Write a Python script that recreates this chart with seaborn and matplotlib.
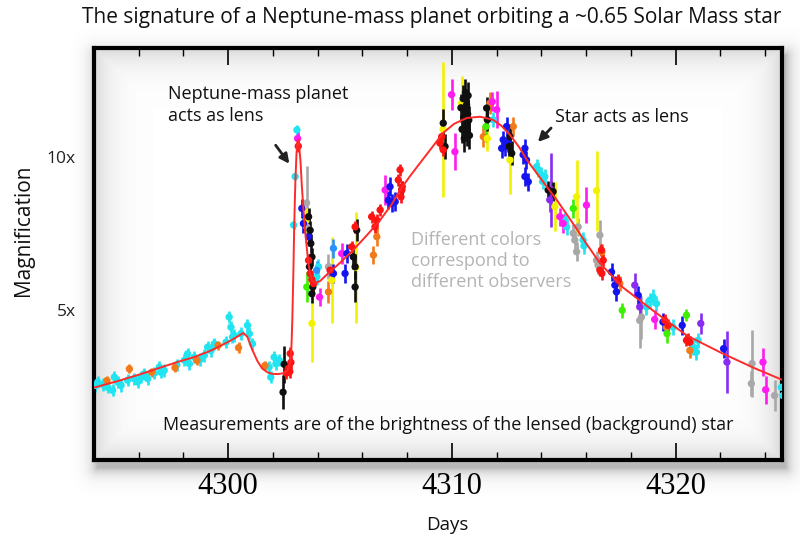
import numpy as np
import pandas as pd
import matplotlib
matplotlib.use("Agg")
import matplotlib.pyplot as plt
from matplotlib.ticker import MultipleLocator
import seaborn as sns

# ---------------- model light curve (days, magnification) ----------------
model_day = [4294.0, 4295.0, 4296.0, 4297.0, 4297.8, 4298.5, 4299.2, 4299.7, 4300.2,
             4300.67, 4300.85, 4301.07, 4301.3, 4301.52, 4301.75, 4301.95, 4302.2,
             4302.5, 4302.65, 4302.77, 4302.82, 4302.86, 4302.91, 4302.95, 4303.0,
             4303.05, 4303.09, 4303.13, 4303.17, 4303.23, 4303.29, 4303.37, 4303.44,
             4303.57, 4303.66, 4303.74, 4303.88, 4304.1, 4304.46, 4305.0, 4305.58,
             4306.2, 4306.79, 4307.3, 4307.68, 4308.1, 4308.57, 4309.1, 4309.6,
             4310.1, 4310.67, 4311.25, 4311.83, 4312.2, 4312.59, 4313.0, 4313.35,
             4314.06, 4314.69, 4315.4, 4316.0, 4316.61, 4317.63, 4318.97, 4320.49,
             4322.1, 4323.5, 4324.8]
model_mag = [2.48, 2.68, 2.90, 3.14, 3.33, 3.48, 3.68, 3.86, 4.05,
             4.26, 4.14, 3.72, 3.35, 3.10, 2.98, 2.93, 2.92,
             2.95, 3.05, 3.30, 3.70, 4.60, 6.20, 7.80, 9.20,
             10.10, 10.50, 10.55, 10.35, 9.85, 9.05, 8.20, 7.55,
             6.60, 6.20, 5.98, 5.88, 5.95, 6.20, 6.55, 6.96,
             7.45, 7.94, 8.45, 8.92, 9.35, 9.80, 10.30, 10.78,
             11.08, 11.27, 11.31, 11.21, 11.02, 10.72, 10.32, 9.90,
             9.20, 8.59, 7.84, 7.18, 6.54, 5.75, 5.00, 4.18,
             3.59, 3.12, 2.72]

# ---------------- measurements, one set per observer ----------------
cyan_day = [4294.05, 4294.17, 4294.4, 4294.61, 4294.83, 4294.91, 4295.06, 4295.21,
            4295.5, 4295.8, 4295.95, 4296.1, 4296.25, 4296.4, 4296.7, 4296.92,
            4296.99, 4297.14, 4297.7, 4298.04, 4298.18, 4298.26, 4298.48, 4298.75,
            4298.93, 4299.08, 4299.23, 4299.38, 4299.9, 4300.04, 4300.12, 4300.19,
            4300.27, 4300.57, 4300.86, 4300.94, 4301.08, 4301.83, 4301.9, 4302.05,
            4302.13, 4302.28, 4302.92, 4302.99, 4303.07, 4303.96, 4304.03, 4311.84,
            4313.78, 4313.86, 4314.0, 4314.05, 4314.15, 4315.04, 4315.12, 4315.86,
            4315.9, 4318.69, 4318.84, 4318.99, 4319.14, 4319.88, 4320.77, 4320.92,
            4321.0, 4324.72, 4324.79]
cyan_mag = [2.55, 2.66, 2.58, 2.49, 2.39, 2.82, 2.66, 2.55,
            2.72, 2.77, 2.66, 2.82, 2.93, 2.77, 2.95, 3.15,
            2.98, 3.04, 3.22, 3.37, 3.58, 3.26, 3.47, 3.40,
            3.53, 3.80, 3.69, 3.91, 3.96, 4.78, 4.45, 4.13,
            4.18, 4.24, 4.51, 4.24, 3.91, 3.15, 2.82, 3.47,
            3.26, 3.37, 7.78, 9.36, 10.88, 6.09, 6.42, 11.21,
            9.68, 9.58, 9.41, 9.20, 9.36, 7.94, 7.72, 7.29,
            7.10, 5.11, 5.33, 5.43, 5.22, 4.45, 3.80, 3.64,
            4.02, 2.49, 2.22]
cyan_err = [0.2] * 42 + [0.12, 0.12, 0.15] + [0.25] * 22

orange_day = [4294.58, 4295.58, 4296.58, 4297.62, 4298.6, 4299.55, 4300.46, 4301.64,
              4304.48, 4306.49, 4306.64, 4311.4, 4311.7, 4312.74, 4316.7, 4317.5,
              4319.58, 4320.63]
orange_mag = [2.71, 3.09, 2.98, 3.13, 3.37, 3.86, 3.78, 3.2,
              5.6, 6.8, 7.4, 10.66, 11.75, 10.99, 6.9, 5.87,
              4.45, 3.69]
orange_err = [0.15, 0.15, 0.15, 0.15, 0.15, 0.15, 0.18, 0.15,
              0.35, 0.3, 0.3, 0.35, 0.35, 0.3, 0.25, 0.25,
              0.25, 0.25]

red_day = [4302.6, 4302.68, 4302.75, 4302.8, 4302.77, 4303.13, 4303.59, 4303.66,
           4303.74, 4303.81, 4304.55, 4305.52, 4305.67, 4306.41, 4306.56, 4306.64,
           4306.79, 4307.6, 4307.68, 4307.75, 4307.78, 4307.72, 4309.54, 4309.46,
           4309.61, 4316.68, 4316.76, 4316.61, 4316.7, 4317.43, 4319.66, 4319.51,
           4320.55, 4320.63, 4320.48]
red_mag = [2.95, 3.1, 3.0, 3.3, 3.59, 10.35, 6.63, 6.2,
           6.0, 5.87, 6.31, 7.07, 7.72, 8.05, 7.72, 7.94,
           8.27, 9.25, 9.58, 8.92, 9.03, 8.7, 10.66, 10.45,
           10.23, 6.96, 6.63, 6.31, 6.2, 5.98, 4.51, 4.67,
           4.07, 3.96, 4.02]
red_err = [0.2] * 35

black_day = [4302.5, 4302.45, 4303.59, 4303.66, 4303.69, 4303.74, 4303.63, 4303.78,
             4303.74, 4305.59, 4305.67, 4305.67, 4305.74, 4307.75, 4309.61, 4309.69,
             4310.4, 4310.45, 4310.5, 4310.52, 4310.55, 4310.58, 4310.6, 4310.62,
             4310.65, 4310.68, 4310.7, 4310.72, 4310.75, 4310.78, 4311.55, 4311.58,
             4312.59, 4312.56, 4312.67, 4314.3, 4314.52]
black_mag = [3.24, 2.33, 8.05, 7.61, 7.18, 6.74, 6.42, 5.76,
             5.54, 6.74, 6.42, 5.76, 7.61, 8.92, 11.1, 10.34,
             11.6, 10.9, 11.9, 11.3, 10.6, 11.5, 12.1, 11.0,
             11.7, 10.8, 11.4, 12.0, 11.2, 10.7, 11.59, 11.21,
             10.66, 10.34, 10.12, 8.92, 8.87]
black_err = [0.6, 0.55, 0.3, 0.3, 0.3, 0.3, 0.3, 0.3,
             0.3, 0.4, 0.4, 0.5, 0.35, 0.3, 0.45, 0.4,
             0.45, 0.45, 0.45, 0.45, 0.45, 0.45, 0.45, 0.45,
             0.45, 0.45, 0.45, 0.45, 0.45, 0.45, 0.35, 0.35,
             0.4, 0.4, 0.4, 0.3, 0.3]

blue_day = [4303.29, 4303.36, 4303.59, 4304.7, 4305.3, 4305.22, 4307.23, 4307.31,
            4307.16, 4307.46, 4312.29, 4312.44, 4312.37, 4312.22, 4312.51, 4313.26,
            4313.18, 4313.33, 4313.41, 4313.26, 4317.13, 4317.28, 4317.35, 4318.32,
            4319.43, 4320.29, 4322.14]
blue_mag = [8.32, 7.83, 7.4, 6.2, 6.85, 6.2, 9.03, 8.49,
            8.59, 8.54, 10.56, 10.99, 10.34, 10.28, 10.45, 10.28,
            10.07, 9.9, 9.19, 9.36, 6.25, 5.82, 5.6, 5.49,
            4.62, 4.51, 3.75]
blue_err = [0.3] * 27

azure_day = [4304.7, 4303.95]
azure_mag = [7.02, 6.3]
azure_err = [0.3, 0.3]

magenta_day = [4303.1, 4304.08, 4305.07, 4307.01, 4309.98, 4310.13, 4312.0, 4311.8,
               4314.82, 4314.97, 4316.01, 4319.06, 4323.9, 4324.02]
magenta_mag = [10.6, 5.43, 6.85, 8.92, 12.03, 10.17, 11.54, 11.8,
               8.05, 7.83, 8.43, 4.7, 3.31, 2.41]
magenta_err = [0.3, 0.3, 0.35, 0.5, 0.5, 0.6, 0.6, 0.3,
               0.3, 0.3, 0.6, 0.3, 0.45, 0.45]

yellow_day = [4303.74, 4303.48, 4304.63, 4305.7, 4309.6, 4310.43, 4311.58, 4312.59,
              4314.6, 4315.57, 4316.46]
yellow_mag = [4.57, 7.94, 5.98, 6.4, 10.9, 11.75, 10.6, 9.9,
              8.38, 8.7, 8.9]
yellow_err = [1.25, 0.4, 1.4, 1.8, 2.2, 0.9, 0.4, 1.1,
              0.8, 1.2, 1.3]

green_day = [4303.51, 4311.52, 4315.42, 4317.61, 4319.61, 4320.48]
green_mag = [5.76, 10.99, 8.32, 5.0, 4.24, 4.84]
green_err = [0.5, 0.5, 0.3, 0.25, 0.3, 0.2]

grey_day = [4303.5, 4303.51, 4304.48, 4315.42, 4315.49, 4315.57, 4315.64, 4316.61,
            4316.46, 4316.53, 4318.39, 4318.47, 4323.41, 4323.38, 4324.42]
grey_mag = [8.5, 7.72, 6.42, 7.51, 7.29, 6.91, 7.72, 7.45,
            6.63, 6.47, 4.67, 4.78, 3.26, 2.61, 2.22]
grey_err = [1.2, 0.3, 0.4, 0.3, 0.3, 0.3, 0.3, 0.5,
            0.3, 0.3, 0.9, 0.7, 1.1, 0.4, 0.5]

purple_day = [4314.44, 4314.37, 4318.17, 4318.39, 4321.12, 4322.29]
purple_mag = [8.92, 8.6, 5.82, 5.11, 4.57, 3.31]
purple_err = [1.2, 0.4, 0.4, 0.4, 0.35, 1.0]

observers = {
    "cyan": (cyan_day, cyan_mag, cyan_err, "#20e4f0"),
    "orange": (orange_day, orange_mag, orange_err, "#f27a1a"),
    "grey": (grey_day, grey_mag, grey_err, "#a8a8a8"),
    "yellow": (yellow_day, yellow_mag, yellow_err, "#f2f200"),
    "green": (green_day, green_mag, green_err, "#3cf000"),
    "purple": (purple_day, purple_mag, purple_err, "#8a2cf0"),
    "magenta": (magenta_day, magenta_mag, magenta_err, "#ff1cf0"),
    "azure": (azure_day, azure_mag, azure_err, "#2a90ff"),
    "blue": (blue_day, blue_mag, blue_err, "#1414f0"),
    "black": (black_day, black_mag, black_err, "#101010"),
    "red": (red_day, red_mag, red_err, "#ff1414"),
}

frames = []
for name, (d, m, e, c) in observers.items():
    frames.append(pd.DataFrame({"day": d, "mag": m, "err": e, "observer": name}))
df = pd.concat(frames, ignore_index=True)
palette = {k: v[3] for k, v in observers.items()}

# ---------------- figure ----------------
sns.set_theme(style="white")
plt.rcParams["font.family"] = ["Open Sans", "DejaVu Sans"]

W, H = 800, 542
fig = plt.figure(figsize=(W / 100, H / 100), dpi=100)
fig.patch.set_facecolor("white")

L, R, T, B = 94, 782, 48, 460


def fx(px):
    return px / W


def fy(py):
    return 1 - py / H


# soft drop shadow around the plot frame
bg = fig.add_axes([0, 0, 1, 1], zorder=-5)
bg.axis("off")
yy, xx = np.mgrid[0:H, 0:W]
sx, sy = 3, 7
dx = np.maximum(np.maximum((L + sx) - xx, xx - (R + sx)), 0)
dy = np.maximum(np.maximum((T + sy) - yy, yy - (B + sy)), 0)
dist = np.hypot(dx, dy)
shade = 1 - 0.28 * np.exp(-dist / 7.0)
bg.imshow(shade, cmap="gray", vmin=0, vmax=1, extent=(0, W, H, 0), aspect="auto")
bg.set_xlim(0, W)
bg.set_ylim(H, 0)

ax = fig.add_axes([L / W, 1 - B / H, (R - L) / W, (B - T) / H])
ax.set_facecolor("white")

# inner vignette along the frame
aw, ah = R - L, B - T
gy, gx = np.mgrid[0:ah, 0:aw]
edge = np.minimum(np.minimum(gx, aw - gx), np.minimum(gy, ah - gy)).astype(float)
inner = 1 - 0.16 * np.exp(-edge / 16.0)
ax.imshow(inner, cmap="gray", vmin=0, vmax=1, extent=(0, 1, 0, 1),
          transform=ax.transAxes, aspect="auto", zorder=0)

# error bars, then markers
for name, (d, m, e, c) in observers.items():
    xe = 0.1 if name == "cyan" else None
    ax.errorbar(d, m, yerr=e, xerr=xe, fmt="none", ecolor=c, elinewidth=1.9,
                capsize=0, zorder=2)
sns.scatterplot(data=df, x="day", y="mag", hue="observer", palette=palette,
                s=28, linewidth=0, legend=False, ax=ax, zorder=3)

# best-fit model
sns.lineplot(x=model_day, y=model_mag, sort=False, color="#ff2a2a", lw=1.4,
             ax=ax, zorder=4)

ax.set_xlim(4294.0, 4324.75)
ax.set_ylim(0.12, 13.55)

for s in ax.spines.values():
    s.set_linewidth(3)
    s.set_color("black")

ax.set_xticks([4300, 4310, 4320])
ax.set_xticklabels(["4300", "4310", "4320"], family=["Liberation Serif"], fontsize=22)
ax.xaxis.set_minor_locator(MultipleLocator(2))
ax.tick_params(axis="x", which="both", direction="in", top=True, bottom=True,
               colors="black", pad=9)
ax.tick_params(axis="x", which="major", length=12, width=1.2)
ax.tick_params(axis="x", which="minor", length=6, width=1.0)
ax.set_yticks([5, 10])
ax.set_yticklabels(["5x", "10x"], fontsize=12.5, color="#222222")
ax.tick_params(axis="y", which="both", length=0, pad=13)

ax.set_xlabel("")
ax.set_ylabel("")
fig.text(fx(447), fy(525), "Days", ha="center", va="center", fontsize=13.5,
         color="#111111")
fig.text(fx(24), fy(230), "Magnification", ha="center", va="center", rotation=90,
         fontsize=15, color="#111111")

fig.text(fx(432), fy(18),
         "The signature of a Neptune-mass planet orbiting a ~0.65 Solar Mass star",
         ha="center", va="center", fontsize=15, color="#111111")

fig.text(fx(168), fy(105), "Neptune-mass planet\nacts as lens", ha="left", va="center",
         fontsize=13, color="#111111", linespacing=1.3)
fig.text(fx(555), fy(117), "Star acts as lens", ha="left", va="center",
         fontsize=13, color="#111111")
fig.text(fx(411), fy(261), "Different colors\ncorrespond to\ndifferent observers",
         ha="left", va="center", fontsize=13, color="#b4b4b4", linespacing=1.2)
fig.text(fx(448), fy(425),
         "Measurements are of the brightness of the lensed (background) star",
         ha="center", va="center", fontsize=13, color="#111111")

fig.add_artist(matplotlib.patches.FancyArrowPatch(
    (fx(274), fy(143)), (fx(291), fy(166)), transform=fig.transFigure,
    arrowstyle="-|>", mutation_scale=14, color="#222222", lw=2))
fig.add_artist(matplotlib.patches.FancyArrowPatch(
    (fx(553), fy(126)), (fx(536), fy(144)), transform=fig.transFigure,
    arrowstyle="-|>", mutation_scale=14, color="#222222", lw=2))

fig.savefig("out.png", dpi=100, facecolor="white")
